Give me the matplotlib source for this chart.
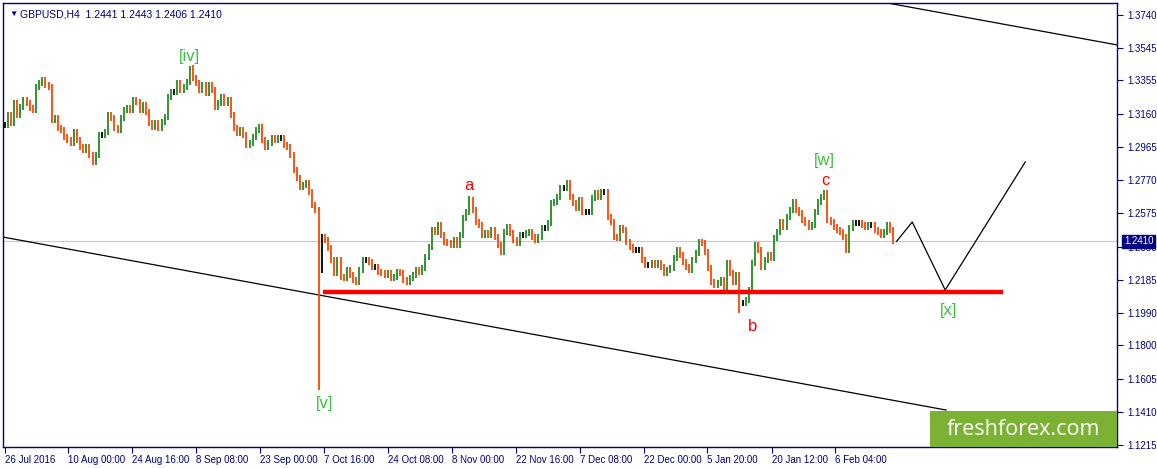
import matplotlib.pyplot as plt
import numpy as np
from matplotlib.patches import Rectangle

# GBPUSD H4 closes (one value per ~3 px)
closes_aug_oct = [
    1.3094, 1.3153, 1.3106, 1.3223, 1.3153, 1.3200, 1.3241, 1.3223, 1.3194, 1.3182,
    1.3317, 1.3341, 1.3358, 1.3329, 1.3317, 1.3123, 1.3135, 1.3076, 1.3065, 1.3023,
    1.3006, 1.2988, 1.3053, 1.3006, 1.2965, 1.2947, 1.2965, 1.2918, 1.2877, 1.2918,
    1.3035, 1.3035, 1.3053, 1.3153, 1.3135, 1.3076, 1.3065, 1.3135, 1.3182, 1.3194,
    1.3182, 1.3241, 1.3229, 1.3182, 1.3211, 1.3170, 1.3106, 1.3082, 1.3106, 1.3076,
    1.3112, 1.3141, 1.3258, 1.3288, 1.3288, 1.3341, 1.3299, 1.3317, 1.3346, 1.3429,
    1.3370, 1.3341, 1.3299, 1.3329, 1.3282, 1.3329, 1.3299, 1.3200, 1.3223, 1.3258,
    1.3223, 1.3241, 1.3153, 1.3076, 1.3047, 1.3065, 1.3035, 1.2976, 1.2988, 1.3023,
    1.3065, 1.3082, 1.3006, 1.2965, 1.2988, 1.3018, 1.3006, 1.3018, 1.3018, 1.2976,
    1.2965, 1.2918, 1.2830, 1.2783, 1.2730, 1.2742, 1.2753, 1.2700, 1.2624, 1.2595,
]
closes_oct_dec = [
    1.2436, 1.2436, 1.2419, 1.2372, 1.2301, 1.2225, 1.2301, 1.2201, 1.2195, 1.2242,
    1.2213, 1.2184, 1.2172, 1.2242, 1.2301, 1.2301, 1.2289, 1.2260, 1.2260, 1.2231,
    1.2225, 1.2213, 1.2225, 1.2195, 1.2201, 1.2231, 1.2225, 1.2184, 1.2172, 1.2195,
    1.2213, 1.2242, 1.2231, 1.2254, 1.2319, 1.2377, 1.2477, 1.2466, 1.2507, 1.2448,
    1.2407, 1.2401, 1.2389, 1.2419, 1.2389, 1.2448, 1.2548, 1.2583, 1.2653, 1.2595,
    1.2524, 1.2507, 1.2448, 1.2460, 1.2448, 1.2477, 1.2436, 1.2389, 1.2348, 1.2466,
    1.2495, 1.2460, 1.2419, 1.2401, 1.2448, 1.2448, 1.2460, 1.2466, 1.2436, 1.2419,
    1.2436, 1.2489, 1.2489, 1.2518, 1.2636, 1.2642, 1.2671, 1.2724, 1.2724, 1.2753,
    1.2671, 1.2636, 1.2606, 1.2653, 1.2583, 1.2583, 1.2583, 1.2665, 1.2695, 1.2671,
    1.2700, 1.2700,
]
closes_dec_feb = [
    1.2554, 1.2524, 1.2436, 1.2430, 1.2489, 1.2477, 1.2407, 1.2377, 1.2360, 1.2360,
    1.2360, 1.2301, 1.2272, 1.2272, 1.2283, 1.2272, 1.2283, 1.2260, 1.2225, 1.2242,
    1.2254, 1.2313, 1.2360, 1.2330, 1.2289, 1.2260, 1.2242, 1.2301, 1.2342, 1.2407,
    1.2401, 1.2348, 1.2254, 1.2172, 1.2154, 1.2166, 1.2184, 1.2142, 1.2283, 1.2225,
    1.2172, 1.2213, 1.2049, 1.2049, 1.2066, 1.2125, 1.2283, 1.2389, 1.2360, 1.2260,
    1.2301, 1.2330, 1.2313, 1.2430, 1.2466, 1.2524, 1.2495, 1.2554, 1.2595, 1.2642,
    1.2595, 1.2577, 1.2536, 1.2518, 1.2495, 1.2507, 1.2583, 1.2642, 1.2671, 1.2695,
    1.2536, 1.2524, 1.2495, 1.2477, 1.2466, 1.2436, 1.2360, 1.2489, 1.2518, 1.2518,
    1.2518, 1.2507, 1.2495, 1.2507, 1.2507, 1.2477, 1.2466, 1.2448, 1.2466, 1.2507,
    1.2477, 1.2410,
]

# long wicks visible on the chart (bar index -> price)
spike_lows = {100: 1.1538, 101: 1.2225, 234: 1.1990}
spike_highs = {59: 1.3440, 148: 1.2677, 261: 1.2712}

x_tick_pos = [0, 20.35, 40.7, 61.0, 81.4, 101.7, 122.1, 142.4, 162.8, 183.1,
              203.5, 223.8, 244.2, 264.5]
x_tick_labels = ["26 Jul 2016", "10 Aug 00:00", "24 Aug 16:00", "8 Sep 08:00",
                 "23 Sep 00:00", "7 Oct 16:00", "24 Oct 08:00", "8 Nov 00:00",
                 "22 Nov 16:00", "7 Dec 08:00", "22 Dec 00:00", "5 Jan 20:00",
                 "20 Jan 12:00", "6 Feb 04:00"]
y_ticks = [1.3740, 1.3545, 1.3355, 1.3160, 1.2965, 1.2770, 1.2575, 1.2380,
           1.2185, 1.1990, 1.1800, 1.1605, 1.1410, 1.1215]

last_price = 1.2410
support_level = 1.2113
support_span = (101.4, 317.9)
lower_channel = ([0, 299.8], [1.2434, 1.1420])
upper_channel = ([281.1, 354.2], [1.3810, 1.3564])
projection_x = [284, 289.0, 299.5, 325.0]
projection_y = [1.2410, 1.2524, 1.2125, 1.2877]

wave_labels = [("[iv]", 59, 1.3493, "green"), ("[v]", 102, 1.1461, "green"),
               ("[w]", 261, 1.2888, "green"), ("[x]", 300.5, 1.2002, "green"),
               ("a", 148, 1.2736, "red"), ("b", 238, 1.1913, "red"),
               ("c", 261.5, 1.2765, "red")]

navy = "#000080"
plt.rcParams["font.family"] = ["Liberation Sans", "DejaVu Sans"]

closes = np.array(closes_aug_oct + closes_oct_dec + closes_dec_feb)
opens = np.r_[closes[0], closes[:-1]]
idx = np.arange(len(closes))
wick = 0.0016
lows = np.minimum(opens, closes) - wick
highs = np.maximum(opens, closes) + wick
for i, v in spike_lows.items():
    lows[i] = v
for i, v in spike_highs.items():
    highs[i] = v
colors = np.where(closes > opens, "#228B22",
                  np.where(closes < opens, "#FF4500", "black"))

fig = plt.figure(figsize=(11.57, 4.68), dpi=100)
ax = fig.add_axes([3 / 1157, 21 / 468, 1114 / 1157, 444 / 468])

ax.axhline(last_price, color="#c8c8c8", lw=0.8, zorder=1)
ax.vlines(idx, lows, highs, colors=colors, lw=1.3, zorder=3)

ax.plot(*lower_channel, color="black", lw=0.9, zorder=2)
ax.plot(*upper_channel, color="black", lw=0.9, zorder=2)
ax.plot(projection_x, projection_y, color="black", lw=0.9, zorder=2)
ax.hlines(support_level, *support_span, color="red", lw=3.2, zorder=4)

for txt, xv, yv, c in wave_labels:
    col = "#3cbf3c" if c == "green" else "red"
    ax.text(xv, yv, txt, color=col, fontsize=12, ha="center", va="center",
            zorder=6)

ax.set_xlim(-0.5, 354.2)
ax.set_ylim(1.1203, 1.3810)

ax.yaxis.tick_right()
ax.set_yticks(y_ticks)
ax.set_yticklabels([f"{v:.4f}" for v in y_ticks])
ax.set_xticks(x_tick_pos)
ax.set_xticklabels(x_tick_labels, ha="left")
ax.tick_params(axis="both", colors=navy, labelcolor=navy, labelsize=7,
               length=4, width=0.8, direction="out")
ax.tick_params(axis="x", pad=2)
for s in ax.spines.values():
    s.set_color(navy)
    s.set_linewidth(1)

# current price marker on the price scale
ax.annotate(f"{last_price:.4f}", xy=(1.0, last_price),
            xycoords=("axes fraction", "data"), xytext=(5, 0),
            textcoords="offset points", va="center", ha="left", fontsize=7,
            color="white", annotation_clip=False, zorder=10,
            bbox=dict(boxstyle="square,pad=0.15", fc=navy, ec=navy))

ax.text(0.006, 0.975, "\u25bc", transform=ax.transAxes, color=navy,
        fontsize=6, va="center", ha="left")
ax.text(0.015, 0.975, "GBPUSD,H4  1.2441 1.2443 1.2406 1.2410",
        transform=ax.transAxes, color=navy, fontsize=7.5, va="center",
        ha="left")

ax.add_patch(Rectangle((0.832, 0.0), 0.168, 0.081, transform=ax.transAxes,
                       fc="#7cb234", ec="none", zorder=8))
ax.text(0.916, 0.04, "freshforex.com", transform=ax.transAxes, color="white",
        fontsize=15.5, family="Open Sans", ha="center", va="center", zorder=9)

fig.savefig("out.png", dpi=100)
